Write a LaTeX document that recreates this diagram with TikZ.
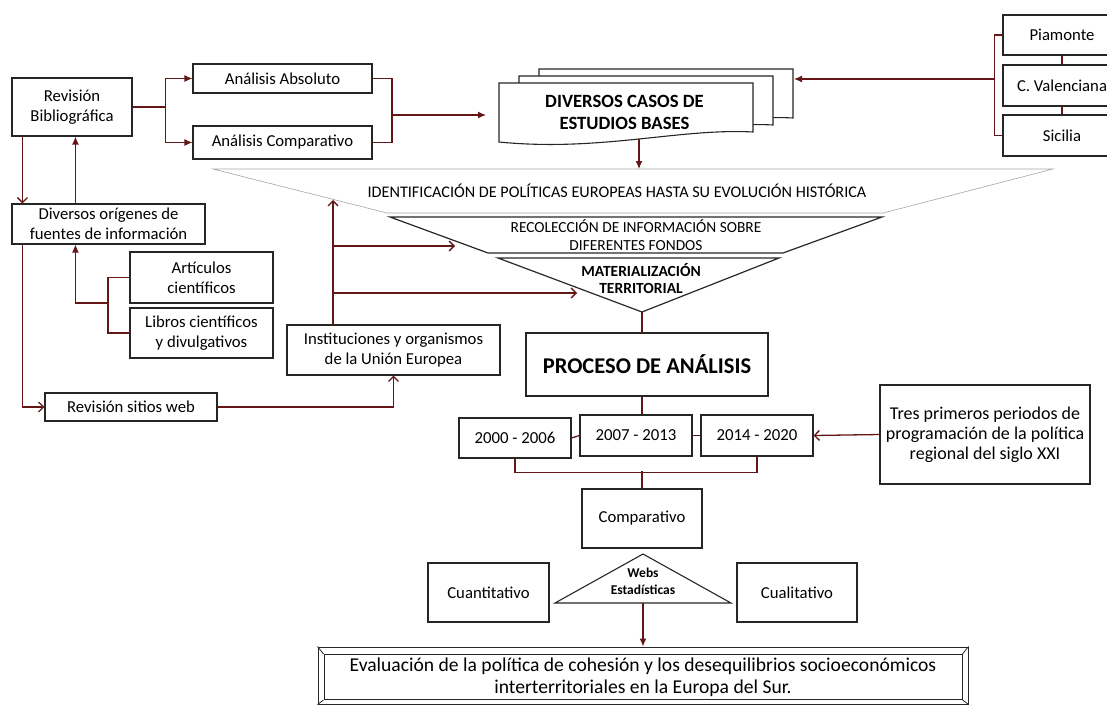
\documentclass[tikz,border=0pt]{standalone}
\usepackage{fontspec}
\setmainfont{Carlito}
\usetikzlibrary{arrows.meta}
\definecolor{linkred}{RGB}{100,22,22}

\begin{document}
\begin{tikzpicture}[x=1pt,y=-1pt,
  main_box/.style={draw=black!85,line width=1.1pt,align=center,inner sep=2pt,font=\fontsize{16.7}{20}\selectfont},
  year_box/.style={main_box,font=\fontsize{16.8}{19}\selectfont},
  link/.style={draw=linkred,line width=1.3pt},
  link_fill/.style={link,-{Latex[length=8pt,width=7pt]}},
  link_open/.style={link,-{Straight Barb[length=5pt,width=10pt]}},
  funnel_text/.style={align=center,font=\fontsize{15.4}{17.5}\selectfont}]
\useasboundingbox (0,0) rectangle (1107,704);

    % left column
    \node[main_box,minimum width=120,minimum height=58] (rev) at (72,107) {Revisión\\Bibliográfica};
    \node[main_box,minimum width=179,minimum height=29] (absoluto) at (282.5,78.5) {Análisis Absoluto};
    \node[main_box,minimum width=179,minimum height=33] (comparativoA) at (282.5,142.5) {Análisis Comparativo};
    \node[main_box,minimum width=193,minimum height=40] (origenes) at (108.5,224) {Diversos orígenes de\\fuentes de información};
    \node[main_box,minimum width=143,minimum height=51] (articulos) at (201.5,277.5) {Artículos\\científicos};
    \node[main_box,minimum width=143,minimum height=50] (libros) at (201.5,333) {Libros científicos\\y divulgativos};
    \node[main_box,minimum width=172,minimum height=28] (sitios) at (131,407) {Revisión sitios web};
    \node[main_box,minimum width=213,minimum height=50] (inst) at (393.5,350) {Instituciones y organismos\\de la Unión Europea};

    % case studies
    \node[main_box,minimum width=118,minimum height=40] (piamonte) at (1062,35) {Piamonte};
    \node[main_box,minimum width=118,minimum height=41] (valenciana) at (1062,85.5) {C. Valenciana};
    \node[main_box,minimum width=118,minimum height=41] (sicilia) at (1062,135.5) {Sicilia};

    \foreach \dx/\dy in {40/-14, 20/-7, 0/0}
      \draw[shift={(\dx,\dy)},draw=black!85,fill=white,line width=1.1pt]
        (499,83) -- (753,83) -- (753,132) .. controls (680,128) and (600,152) .. (499,142) -- cycle;
    \node[align=center,font=\fontsize{18.7}{22}\bfseries] (casos) at (624.5,112) {DIVERSOS CASOS DE\\ESTUDIOS BASES};

    % funnel
    \coordinate (f1) at (213,169);
    \draw[gray!70,line width=0.6pt] (f1) -- (1053,169) -- (883,213) -- (387,213) -- cycle;
    \draw[black!85,line width=1.2pt] (390,217) -- (882,217) -- (783,253) -- (488,253) -- cycle;
    \draw[black!85,line width=1.2pt] (498,258) -- (779,258) -- (642,312) coordinate (apex) -- cycle;
    \node[funnel_text,font=\fontsize{16.2}{18}\selectfont] (ident) at (617,191) {IDENTIFICACIÓN DE POLÍTICAS EUROPEAS HASTA SU EVOLUCIÓN HISTÓRICA};
    \node[funnel_text] (recol) at (636,235) {RECOLECCIÓN DE INFORMACIÓN SOBRE\\DIFERENTES FONDOS};
    \node[funnel_text,font=\fontsize{15.5}{17}\bfseries] (mater) at (641,279) {MATERIALIZACIÓN\\TERRITORIAL};

    % analysis
    \node[main_box,minimum width=242,minimum height=63,font=\fontsize{22.5}{26}\bfseries] (proceso) at (647,364.5) {PROCESO DE ANÁLISIS};
    \node[year_box,minimum width=112,minimum height=40] (y2000) at (515,438) {2000 - 2006};
    \node[year_box,minimum width=112,minimum height=41] (y2007) at (636,435.5) {2007 - 2013};
    \node[year_box,minimum width=112,minimum height=41] (y2014) at (757,435.5) {2014 - 2020};
    \node[main_box,minimum width=210,minimum height=99,font=\fontsize{18}{20}\selectfont] (tres) at (985,434.5) {Tres primeros periodos de\\programación de la política\\regional del siglo XXI};
    \node[main_box,minimum width=120,minimum height=59] (comparativo) at (642,518.5) {Comparativo};
    \node[main_box,minimum width=121,minimum height=59] (cuanti) at (488.5,592.5) {Cuantitativo};
    \node[main_box,minimum width=120,minimum height=59] (cuali) at (797,592.5) {Cualitativo};
    \draw[black!85,line width=1.1pt] (643,554) -- (731,603) -- (555,603) -- cycle;
    \coordinate (webs_base) at (643,603);
    \node[align=center,font=\fontsize{13.5}{17}\bfseries] (webs) at (643,581.5) {Webs\\Estadísticas};

    % final result
    \node[draw=black!85,line width=1pt,minimum width=650,minimum height=57] (eval_outer) at (643,675.5) {};
    \node[draw=black!85,line width=1pt,minimum width=638,minimum height=45,align=center,inner sep=0pt,
      font=\fontsize{19.6}{22}\selectfont] (eval) at (643,677)
      {Evaluación de la política de cohesión y los desequilibrios socioeconómicos\\interterritoriales en la Europa del Sur.};
    \foreach \c in {north west,north east,south west,south east}
      \draw[black!85,line width=0.8pt] (eval_outer.\c) -- (eval.\c);

    % connectors
    \coordinate (ana_join) at (392,115);
    \coordinate (casos_in) at (486,115);
    \coordinate (casos_back) at (794,79);
    \coordinate (pia_join) at (995,79);
    \coordinate (casos_out) at (639,139);
    \coordinate (lit_join) at (108,303);
    \coordinate (inst_top) at (333,200);
    \coordinate (recol_in) at (455,246);
    \coordinate (mater_in) at (577,293);

    \draw[link_fill] (rev.east) -- ++(33,0) |- (absoluto.west);
    \draw[link_fill] (rev.east) -- ++(33,0) |- (comparativoA.west);
    \draw[link] (absoluto.east) -| (ana_join) |- (comparativoA.east);
    \draw[link_fill] (ana_join) -- (casos_in);
    \draw[link] (piamonte.west) -- ++(-8,0) |- (sicilia.west);
    \draw[link] (piamonte.south) -- (valenciana.north);
    \draw[link] (valenciana.south) -- (sicilia.north);
    \draw[link_fill] (pia_join) -- (casos_back);
    \draw[link_fill] (casos_out) -- (casos_out |- f1);

    \draw[link_open] ([xshift=11pt]rev.south west) -- ([xshift=11pt]rev.south west |- origenes.north);
    \draw[link_fill] ([xshift=64pt]origenes.north west) -- ([xshift=64pt]origenes.north west |- rev.south);
    \draw[link_open] ([xshift=11pt]origenes.south west) |- (sitios.west);
    \draw[link] (articulos.west) -| (lit_join) |- (libros.west);
    \draw[link_fill] (lit_join) -| ([xshift=64pt]origenes.south west);
    \draw[link_open] (sitios.east) -| (inst.south);
    \draw[link_open] (inst.north -| inst_top) -- (inst_top);
    \draw[link_open] (inst_top |- recol_in) -- (recol_in);
    \draw[link_open] (inst_top |- mater_in) -- (mater_in);

    \draw[link] (apex) -- (apex |- proceso.north);
    \draw[link] (apex |- proceso.south) -- (apex |- y2007.north);
    \draw[link] (y2000.east) -- (y2007.west);
    \draw[link] (y2007.east) -- (y2014.west);
    \draw[link] (y2000.south) -- ++(0,14) -| (y2014.south);
    \draw[link] (comparativo.north) -- ++(0,-17);
    \draw[link_open] (tres.west) -- (y2014.east);
    \draw[link_fill] (webs_base) -- (webs_base |- eval_outer.north);

\end{tikzpicture}
\end{document}
